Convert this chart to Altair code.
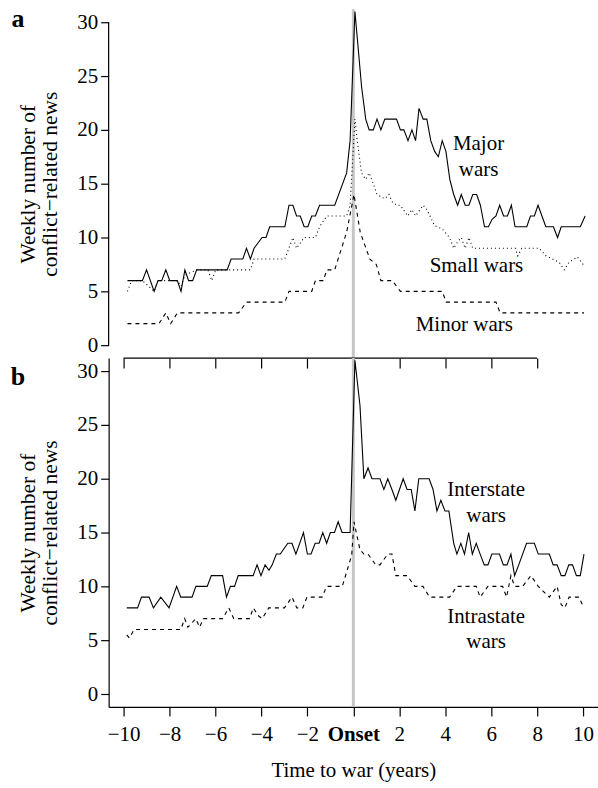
import altair as alt
import pandas as pd

FONT = "Liberation Serif"

# ---------------- data (years to onset, weekly number of news) ----------------
major_wars = [(-9.83, 6), (-9.18, 6), (-9.0, 7), (-8.67, 5), (-8.5, 6), (-8.34, 6), (-8.16, 7),
              (-7.99, 6), (-7.66, 6), (-7.5, 5), (-7.33, 7), (-7.17, 6), (-6.99, 6), (-6.82, 7),
              (-5.49, 7), (-5.32, 8), (-4.81, 8), (-4.65, 9), (-4.48, 8), (-4.32, 9), (-3.97, 10),
              (-3.8, 10), (-3.64, 11), (-2.98, 11), (-2.8, 13), (-2.63, 13), (-2.47, 12), (-2.31, 12),
              (-2.14, 11), (-1.98, 11), (-1.81, 12), (-1.65, 12), (-1.47, 13), (-0.81, 13),
              (-0.29, 16), (-0.14, 19), (0.07, 31), (0.36, 24), (0.54, 21), (0.69, 20), (0.87, 20),
              (1.03, 21), (1.2, 20), (1.37, 21), (1.88, 21), (2.05, 20), (2.2, 20), (2.38, 19),
              (2.55, 20), (2.71, 19), (2.86, 22), (3.04, 21), (3.2, 21), (3.37, 19), (3.54, 18),
              (3.7, 17.5), (3.87, 19), (4.03, 18), (4.2, 15.4), (4.37, 14), (4.54, 13), (4.7, 14),
              (4.87, 13), (5.03, 13), (5.2, 14), (5.37, 14), (5.53, 13), (5.71, 11), (5.88, 11),
              (6.04, 11.7), (6.21, 12), (6.37, 13), (6.54, 12), (6.71, 12), (6.88, 13), (7.04, 11),
              (7.55, 11), (7.71, 12), (7.88, 12), (8.04, 13), (8.21, 12), (8.38, 11), (8.71, 11),
              (8.89, 10), (9.05, 11), (9.88, 11), (10.09, 12)]

small_wars = [(-9.83, 5), (-9.65, 6), (-9.18, 6), (-8.67, 5), (-8.5, 6), (-7.66, 6), (-7.5, 5.5),
              (-7.33, 6.5), (-6.82, 7), (-6.33, 7), (-6.16, 6), (-5.99, 7), (-4.48, 7), (-4.32, 8),
              (-2.98, 8), (-2.63, 10), (-2.47, 9), (-2.14, 10), (-1.65, 10), (-1.47, 11),
              (-1.15, 12), (-0.29, 12), (-0.14, 13), (0.07, 21), (0.17, 19), (0.36, 16),
              (0.53, 15.4), (0.69, 16), (0.87, 15), (1.03, 14), (1.37, 13.6), (1.55, 14),
              (1.7, 13.3), (1.88, 13), (2.05, 13), (2.37, 12), (2.55, 12.6), (2.71, 12), (3.04, 13),
              (3.2, 12.6), (3.54, 11.1), (3.87, 10.8), (4.19, 10), (4.37, 9), (4.54, 9.6), (4.7, 10),
              (4.87, 9), (5.03, 10), (5.2, 9), (7.05, 9), (7.16, 8.3), (7.33, 9), (8.09, 9),
              (8.38, 8.3), (8.96, 7.7), (9.18, 7), (9.39, 7.7), (9.75, 8.2), (10.04, 7.4)]

minor_wars = [(-9.83, 2), (-8.46, 2), (-8.16, 3), (-7.95, 2), (-7.66, 3), (-4.99, 3), (-4.65, 4),
              (-2.98, 4), (-2.8, 5), (-1.81, 5), (-1.65, 6), (-1.31, 6), (-1.15, 7), (-0.81, 7),
              (-0.29, 10.5), (0.03, 14), (0.3, 10.5), (0.55, 9), (0.72, 8), (1.0, 7.5), (1.2, 6),
              (1.7, 6), (2.05, 5), (3.87, 5), (4.04, 4), (6.21, 4), (6.39, 3), (10.04, 3)]

interstate_wars = [(-9.86, 8), (-9.39, 8), (-9.22, 9), (-8.89, 9), (-8.7, 8), (-8.38, 9), (-8.02, 8),
                   (-7.69, 10), (-7.51, 9), (-7.02, 9), (-6.85, 10), (-6.36, 10), (-6.18, 11),
                   (-5.69, 11), (-5.52, 9), (-5.35, 10), (-5.17, 10), (-5.01, 11), (-4.36, 11),
                   (-4.19, 12), (-4.02, 11), (-3.84, 12), (-3.67, 11.5), (-3.53, 12), (-3.35, 13),
                   (-3.18, 13), (-2.85, 14), (-2.67, 14), (-2.5, 13), (-2.17, 15), (-2.0, 13),
                   (-1.84, 13), (-1.66, 14), (-1.49, 14), (-1.33, 15), (-1.16, 14), (-1.0, 15),
                   (-0.82, 15), (-0.66, 16), (-0.49, 15), (-0.14, 15), (0.07, 31), (0.29, 26.8),
                   (0.46, 20), (0.64, 21), (0.81, 20), (1.16, 20), (1.33, 19), (1.5, 20), (1.68, 19),
                   (1.85, 18), (2.17, 20), (2.34, 19), (2.52, 19), (2.68, 17), (2.85, 20), (3.3, 20),
                   (3.47, 19), (3.64, 17), (3.81, 18), (3.99, 17), (4.16, 17), (4.37, 14), (4.51, 13),
                   (4.68, 14), (4.84, 13), (5.02, 15), (5.18, 13), (5.35, 14), (5.52, 13), (5.7, 12),
                   (5.86, 12), (6.03, 13), (6.36, 13), (6.53, 12), (6.69, 12), (6.86, 13), (7.02, 11),
                   (7.2, 12), (7.37, 13), (7.54, 14), (7.88, 14), (8.05, 13), (8.53, 13), (8.7, 12),
                   (8.87, 12), (9.05, 11), (9.21, 11), (9.38, 12), (9.54, 12), (9.71, 11), (9.88, 11),
                   (10.04, 13)]

intrastate_wars = [(-9.86, 5.5), (-9.75, 5.2), (-9.54, 6), (-7.51, 6), (-7.34, 7), (-7.2, 6.2),
                   (-6.86, 7), (-6.69, 6.2), (-6.53, 7), (-5.69, 7), (-5.42, 8), (-5.2, 7),
                   (-4.52, 7), (-4.35, 8), (-4.15, 7.3), (-3.97, 7), (-3.68, 8), (-3.0, 8),
                   (-2.67, 9), (-2.46, 8), (-2.2, 8), (-2.02, 9), (-1.36, 9), (-1.16, 10),
                   (-0.48, 10), (-0.07, 12.9), (0.03, 16), (0.29, 13.4), (0.46, 13), (0.64, 13),
                   (0.97, 12), (1.16, 12), (1.5, 13), (1.68, 13), (1.85, 11), (2.34, 11), (2.68, 10),
                   (3.03, 10), (3.32, 9), (4.19, 9), (4.51, 10), (5.35, 10), (5.52, 9), (5.86, 10),
                   (6.5, 10), (6.67, 9), (6.86, 11), (7.02, 10), (7.37, 10), (7.73, 11), (8.05, 10),
                   (8.53, 9), (8.87, 10), (9.05, 8.3), (9.21, 8), (9.39, 9), (9.82, 9), (9.97, 8.3)]

# annotations (text, x, y)
labels_a = [("Major", 5.45, 18.7), ("wars", 5.45, 16.3), ("Small wars", 5.36, 7.4), ("Minor wars", 4.83, 1.85)]
labels_b = [("Interstate", 5.78, 18.95), ("wars", 5.78, 16.55), ("Intrastate", 5.78, 7.15), ("wars", 5.78, 4.85)]

y_ticks = [0, 5, 10, 15, 20, 25, 30]
x_ticks_a = [-10, -8, -6, -4, -2, 0, 2, 4, 6, 8]
x_ticks_b = [-10, -8, -6, -4, -2, 0, 2, 4, 6, 8, 10]
y_title = ["Weekly number of", "conflict\u2212related news"]
x_title = "Time to war (years)"

# ---------------- chart ----------------
W, H = 491, 350
xs = alt.Scale(domain=[-10.65, 10.65], nice=False, zero=False)
ys = alt.Scale(domain=[-1.2, 31.2], nice=False, zero=False)

y_axis_common = dict(values=y_ticks, tickSize=8, labelPadding=3, labelFontSize=21,
                     title=y_title, titleFontSize=21.5, titleFontWeight="normal",
                     titleLineHeight=22, titlePadding=15, grid=False)

ya_axis = alt.Axis(domain=False, **y_axis_common)
xa_axis = alt.Axis(values=x_ticks_a, labels=False, domain=False, tickSize=10, title=None, grid=False)

yb_axis = alt.Axis(domain=True, **y_axis_common)
xb_axis = alt.Axis(
    values=x_ticks_b, tickSize=9, labelPadding=8, labelFontSize=21,
    labelExpr="datum.value === 0 ? 'Onset' : datum.label",
    labelFontWeight={"condition": {"test": "datum.value === 0", "value": "bold"}, "value": "normal"},
    title=x_title, titleFontSize=21, titleFontWeight="normal", titlePadding=15, grid=False,
    domain=True,
)


def series(pairs, dash, xax, yax):
    d = pd.DataFrame(pairs, columns=["t", "v"])
    kw = dict(color="black", strokeWidth=1.1)
    if dash:
        kw["strokeDash"] = dash
    return alt.Chart(d).mark_line(**kw).encode(
        x=alt.X("t:Q", scale=xs, axis=xax),
        y=alt.Y("v:Q", scale=ys, axis=yax),
    )


def annotations(items, xax, yax):
    d = pd.DataFrame(items, columns=["label", "t", "v"])
    return alt.Chart(d).mark_text(font=FONT, fontSize=21, color="black").encode(
        x=alt.X("t:Q", scale=xs, axis=xax),
        y=alt.Y("v:Q", scale=ys, axis=yax),
        text="label:N",
    )


def onset_line(xax):
    return alt.Chart(pd.DataFrame({"t": [0]})).mark_rule(color="#c6c6c6", strokeWidth=3).encode(
        x=alt.X("t:Q", scale=xs, axis=xax)
    )


def panel_letter(letter, ypix):
    return alt.Chart(pd.DataFrame({"lab": [letter]})).mark_text(
        font=FONT, fontSize=26, fontWeight="bold", color="black", baseline="middle"
    ).encode(x=alt.value(-91), y=alt.value(ypix), text="lab:N")


# panel a
ya_line = alt.Chart(pd.DataFrame({"t": [-10.65], "v0": [0], "v1": [30]})).mark_rule(
    color="black", strokeWidth=1.2
).encode(
    x=alt.X("t:Q", scale=xs, axis=xa_axis),
    y=alt.Y("v0:Q", scale=ys, axis=ya_axis),
    y2="v1:Q",
)
xa_line = alt.Chart(pd.DataFrame({"t0": [-10], "t1": [8], "v": [-1.2]})).mark_rule(
    color="black", strokeWidth=1.2
).encode(
    x=alt.X("t0:Q", scale=xs, axis=xa_axis), x2="t1:Q",
    y=alt.Y("v:Q", scale=ys, axis=ya_axis),
)

panel_a = alt.layer(
    onset_line(xa_axis),
    ya_line,
    xa_line,
    series(minor_wars, [4, 4], xa_axis, ya_axis),
    series(small_wars, [1, 3], xa_axis, ya_axis),
    series(major_wars, None, xa_axis, ya_axis),
    annotations(labels_a, xa_axis, ya_axis),
    panel_letter("a", 10),
).properties(width=W, height=H)

# panel b
panel_b = alt.layer(
    onset_line(xb_axis),
    series(intrastate_wars, [4, 4], xb_axis, yb_axis),
    series(interstate_wars, None, xb_axis, yb_axis),
    annotations(labels_b, xb_axis, yb_axis),
    panel_letter("b", 19),
).properties(width=W, height=H)

chart = alt.vconcat(panel_a, panel_b, spacing=0, bounds="flush").configure_view(
    stroke=None
).configure_axis(
    labelFont=FONT, titleFont=FONT, labelColor="black", titleColor="black",
    tickColor="black", domainColor="black", tickWidth=1.2, domainWidth=1.2,
).properties(
    padding={"left": 10, "top": 5, "right": 0, "bottom": 2}
)

chart.save("out.html", embed_options={"renderer": "svg", "actions": False})
